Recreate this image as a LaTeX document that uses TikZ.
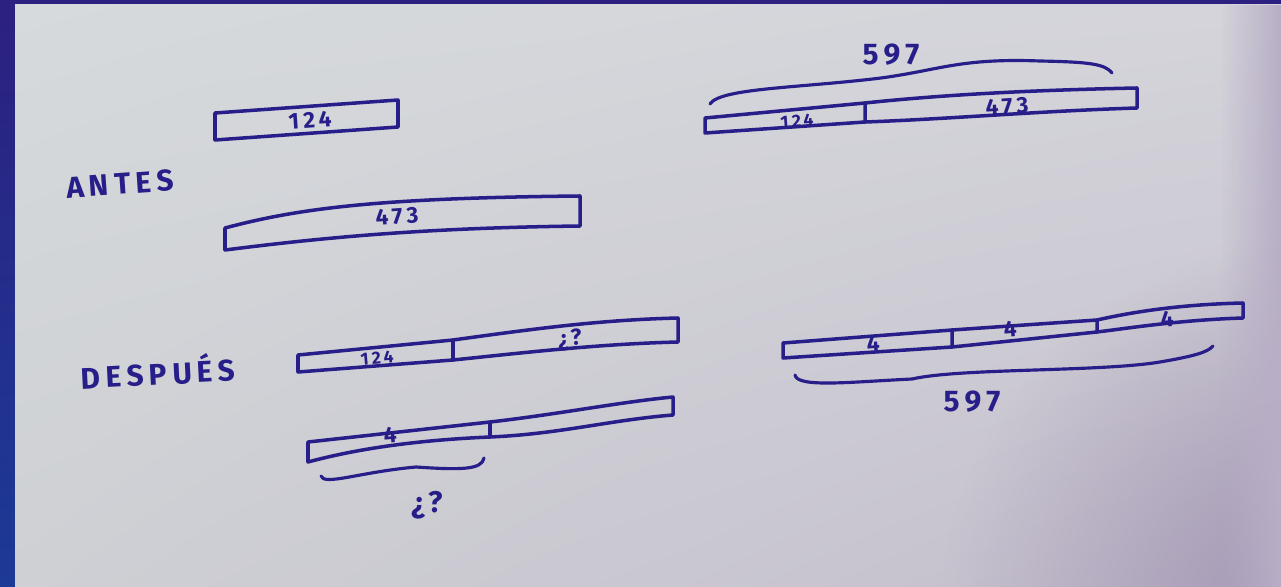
\documentclass[tikz,border=0pt]{standalone}
\usepackage{fontspec}
\usetikzlibrary{shadings,fadings}
\newfontfamily\hand[LetterSpace=18]{Fira Sans}
\definecolor{ink}{RGB}{40,30,138}
\definecolor{edgeT}{RGB}{44,32,128}
\definecolor{edgeB}{RGB}{28,58,150}
\definecolor{paperA}{RGB}{214,218,220}
\definecolor{paperB}{RGB}{212,212,218}
\definecolor{paperC}{RGB}{206,208,212}
\definecolor{paperD}{RGB}{196,190,204}
\definecolor{tint}{RGB}{160,148,178}
\definecolor{edgetint}{RGB}{184,174,198}
\tikzfading[name=cornerfade, inner color=transparent!0, outer color=transparent!100]
\tikzfading[name=edgefade, left color=transparent!100, right color=transparent!0]
\tikzset{
  pen/.style={draw=ink, line width=2pt, line cap=round, line join=round},
  lab/.style={text=ink, font=\hand\bfseries, inner sep=0pt},
  bigtxt/.style={lab, font=\hand\bfseries\fontsize{17}{17}\selectfont},
  midtxt/.style={lab, font=\hand\bfseries\fontsize{13}{13}\selectfont},
  smalltxt/.style={lab, font=\hand\bfseries\fontsize{10}{10}\selectfont}
}
\begin{document}
\begin{tikzpicture}[x=0.02cm,y=-0.02cm]
\useasboundingbox (0,0) rectangle (1281,587);
% background and paper
\shade[top color=edgeT, bottom color=edgeB] (0,0) rectangle (1281,587);
\shade[upper left=paperA, upper right=paperB, lower left=paperC, lower right=paperD]
  (15,5) rectangle (1281,587);
\begin{scope}
  \clip (15,5) rectangle (1281,587);
  \fill[tint, path fading=cornerfade] (1320,620) circle (380);
  \fill[edgetint, path fading=edgefade] (1220,5) rectangle (1281,587);
\end{scope}

% ---------- ANTES ----------
\node[bigtxt, rotate=4] (antes) at (120,184) {ANTES};
% box 124
\draw[pen] (215,113) -- (398,100) -- (398,127) -- (215,140) -- cycle;
\node[midtxt, rotate=4] (t124a) at (310,120) {124};
% box 473
\draw[pen] (225,228) .. controls (300,208) and (380,198) .. (580,196) -- (580,226)
  .. controls (420,228) and (320,238) .. (225,250) -- cycle;
\node[midtxt, rotate=4] (t473a) at (397,216) {473};

% top right combined bar
\draw[pen] (705,118) -- (865,103) -- (865,122) -- (705,133) -- cycle;
\draw[pen] (865,103) .. controls (950,94) and (1040,90) .. (1137,88) -- (1137,108)
  .. controls (1040,111) and (950,119) .. (865,122);
\node[smalltxt, rotate=4] (t124b) at (797,121) {124};
\node[midtxt, rotate=4] (t473b) at (1007,106) {473};
% brace above
\coordinate (b1l) at (710,104);
\coordinate (b1m) at (881,78);
\coordinate (b1r) at (1112,73);
\draw[pen, line width=1.8pt] (b1l) .. controls (720,88) and (800,88) .. (b1m)
  .. controls (940,70) and (960,58) .. (1040,61) .. controls (1090,62) and (1105,64) .. (b1r);
\node[bigtxt] (t597a) at (891,55) {597};

% ---------- DESPUÉS ----------
\node[bigtxt, rotate=3] (despues) at (158,371) {DESPUÉS};
% bar 1
\draw[pen] (298,355) -- (453,340) -- (453,360) -- (298,372) -- cycle;
\draw[pen] (453,340) .. controls (540,328) and (600,320) .. (678,318) -- (678,342)
  .. controls (600,344) and (530,352) .. (453,360);
\node[smalltxt, rotate=5] (t124c) at (377,358) {124};
\node[midtxt, rotate=5] (tq1) at (570,340) {¿?};

% bar 2
\draw[pen] (308,442) -- (490,422) -- (490,437) .. controls (420,440) and (360,448) .. (308,462) -- cycle;
\draw[pen] (490,422) .. controls (560,414) and (620,402) .. (673,397) -- (673,415)
  .. controls (610,420) and (560,434) .. (490,437);
\node[midtxt, rotate=5] (t4a) at (390,435) {4};
% brace below
\coordinate (b2l) at (321,476);
\coordinate (b2m) at (416,467);
\coordinate (b2r) at (484,458);
\draw[pen, line width=1.8pt] (b2l) .. controls (324,486) and (360,472) .. (b2m)
  .. controls (460,470) and (482,470) .. (b2r);
\node[bigtxt] (tq2) at (427,505) {¿?};

% right bottom bar with three parts
\draw[pen] (783,343) -- (952,330) -- (952,347) -- (783,358) -- cycle;
\draw[pen] (952,330) -- (1097,320) -- (1097,332) -- (952,347);
\draw[pen] (1097,320) .. controls (1150,308) and (1200,304) .. (1243,303) -- (1243,318)
  .. controls (1180,320) and (1130,328) .. (1097,332);
\node[midtxt, rotate=5] (t4b) at (873,344) {4};
\node[midtxt, rotate=5] (t4c) at (1010,329) {4};
\node[midtxt, rotate=5] (t4d) at (1167,319) {4};
% brace below
\coordinate (b3l) at (795,375);
\coordinate (b3m) at (912,379);
\coordinate (b3r) at (1213,346);
\draw[pen, line width=1.8pt] (b3l) .. controls (797,388) and (850,382) .. (b3m)
  .. controls (960,368) and (1100,372) .. (1160,362) .. controls (1195,356) and (1208,352) .. (b3r);
\node[bigtxt] (t597b) at (972,402) {597};
\end{tikzpicture}
\end{document}
